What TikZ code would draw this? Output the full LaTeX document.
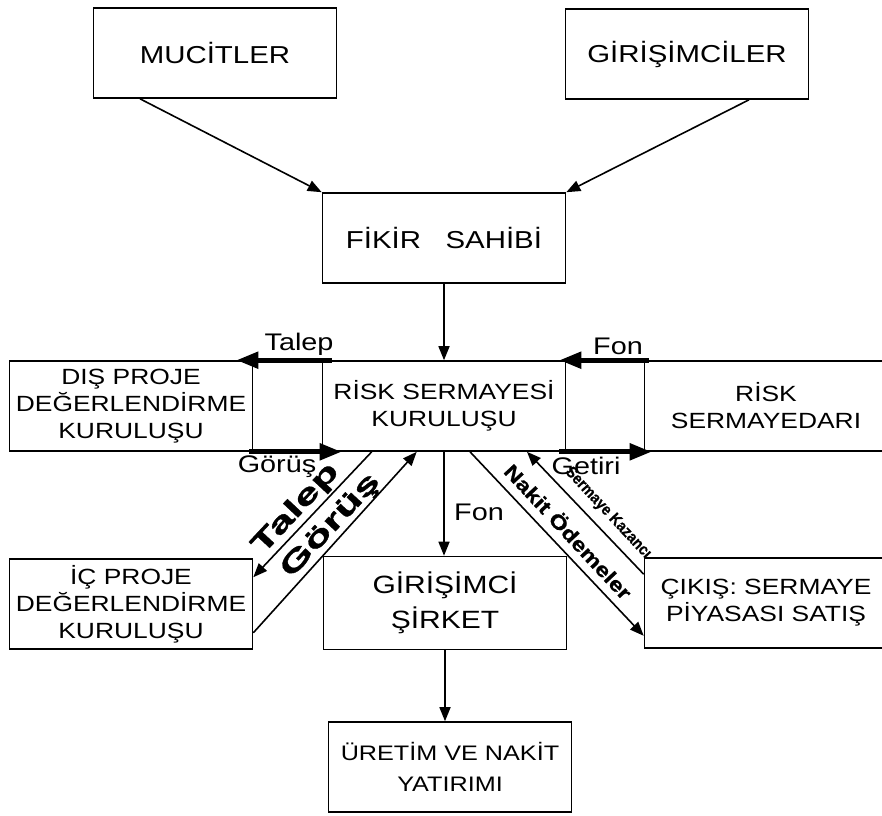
\documentclass[tikz,border=0pt]{standalone}
\usepackage{fontspec}
\setmainfont[FakeStretch=1.2]{Liberation Sans}
\newfontfamily\widefont[FakeStretch=1.6,FakeBold=1.2]{Liberation Sans Bold}
\newfontfamily\midfont[FakeStretch=1.2,FakeBold=0.8]{Liberation Sans Bold}
\newfontfamily\slimfont[FakeStretch=0.9,FakeBold=0.6]{Liberation Sans Bold}
\usetikzlibrary{arrows.meta,calc}

\begin{document}
\begin{tikzpicture}[x=1pt,y=-1pt,
    box/.style={draw, line width=1.6pt, minimum width=243pt, minimum height=90pt,
      inner sep=0pt, align=center, font=\fontsize{22}{27}\selectfont},
    topbox/.style={box, font=\fontsize{24.5}{28}\selectfont},
    flow/.style={line width=1.6pt, -{Triangle[length=14pt,width=11pt]}},
    bigflow/.style={line width=5pt, -{Triangle[length=22pt,width=16pt]}},
    lbl/.style={inner sep=0pt, font=\fontsize{24}{24}\selectfont},
    tilt/.style={inner sep=0pt, font=\widefont\fontsize{28}{28}\selectfont},
    tiltmid/.style={inner sep=0pt, font=\midfont\fontsize{20}{20}\selectfont},
    tiltsmall/.style={inner sep=0pt, font=\slimfont\fontsize{16}{16}\selectfont}]
    \useasboundingbox (0,0) rectangle (882,815);
    \clip (0,0) rectangle (882,815);

    % top row
    \node[topbox] (muc) at (215,53) {MUCİTLER};
    \node[topbox] (gir) at (687,54) {GİRİŞİMCİLER};
    \node[topbox] (fikir) at (444,238) {FİKİR\ \ \ SAHİBİ};

    \draw[flow] ($(muc.south)+(-75,0)$) -- (fikir.north west);
    \draw[flow] ($(gir.south)+(62,0)$) -- (fikir.north east);

    % middle row
    \node[box] (dis) at (131,406) {DIŞ PROJE\\DEĞERLENDİRME\\KURULUŞU};
    \node[box] (rsk) at (444,406) {RİSK SERMAYESİ\\KURULUŞU};
    \node[box] (rsd) at (766,406) {RİSK\\SERMAYEDARI};

    \draw[flow] (fikir.south) -- (rsk.north);
    \draw[line width=1.6pt] (dis.north east) -- (rsk.north west)
      (dis.south east) -- (rsk.south west)
      (rsk.north east) -- (rsd.north west)
      (rsk.south east) -- (rsd.south west);

    \draw[bigflow] ($(rsk.north west)+(10,0)$) -- ($(dis.north east)+(-17,0)$);
    \draw[bigflow] ($(dis.south east)+(-4,0)$) -- ($(rsk.south west)+(20,0)$);
    \draw[bigflow] ($(rsd.north west)+(5,0)$) -- ($(rsk.north east)+(-7,0)$);
    \draw[bigflow] ($(rsk.south east)+(-7,0)$) -- ($(rsd.south west)+(8,0)$);

    \node[lbl] (talepTop) at (299,344) {Talep};
    \node[lbl] (fonTop) at (618,346) {Fon};
    \node[lbl] (gorusBot) at (277,467) {Görüş};
    \node[lbl] (getiriBot) at (586,466) {Getiri};

    % bottom row
    \node[box] (ic) at (131,604) {İÇ PROJE\\DEĞERLENDİRME\\KURULUŞU};
    \node[box, minimum height=93pt, font=\fontsize{25}{35}\selectfont] (sirket) at (445,603) {GİRİŞİMCİ\\ŞİRKET};
    \node[box] (cikis) at (766,603) {ÇIKIŞ: SERMAYE\\PİYASASI SATIŞ};
    \node[box, font=\fontsize{21}{31}\selectfont] (uretim) at (450,767) {ÜRETİM VE NAKİT\\YATIRIMI};

    \draw[flow] (rsk.south) -- (rsk.south |- sirket.north);
    \node[lbl] (fonMid) at (479,512) {Fon};
    \draw[flow] (sirket.south) -- (sirket.south |- uretim.north);

    % diagonal flows
    \draw[flow] ($(rsk.south west)+(50,0)$) -- ($(ic.north east)+(0,19)$);
    \draw[flow] ($(ic.south east)+(0,-17)$) -- ($(rsk.south west)+(95,0)$);
    \draw[flow] ($(rsk.south)+(26,0)$) -- ($(cikis.south west)+(0,-13)$);
    \draw[flow] ($(cikis.north west)+(0,17)$) -- ($(rsk.south)+(83,0)$);

    \node[tilt, rotate=47] (talepDiag) at (296,509) {Talep};
    \node[tilt, rotate=47] (gorusDiag) at (331,526) {Görüş};
    \node[tiltmid, rotate=-47] (nakit) at (569,531) {Nakit Ödemeler};
    \node[tiltsmall, rotate=-47] (kazanc) at (608,513) {Sermaye Kazancı};
\end{tikzpicture}
\end{document}
